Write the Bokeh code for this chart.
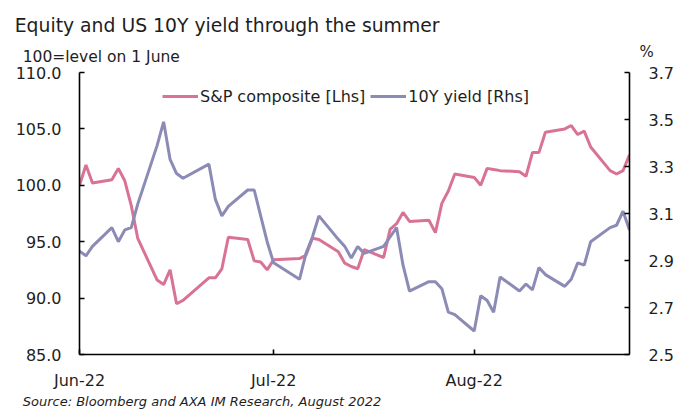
import pandas as pd
from bokeh.plotting import figure
from bokeh.models import (Range1d, LinearAxis, DatetimeAxis, FixedTicker, NumeralTickFormatter,
                          DatetimeTickFormatter, Label, Legend, LegendItem, ColumnDataSource)
from bokeh.embed import file_html
from bokeh.resources import INLINE

# ---- data ----
dates = [
    "2022-06-01", "2022-06-02", "2022-06-03", "2022-06-06", "2022-06-07", "2022-06-08",
    "2022-06-09", "2022-06-10", "2022-06-13", "2022-06-14", "2022-06-15", "2022-06-16",
    "2022-06-17", "2022-06-21", "2022-06-22", "2022-06-23", "2022-06-24", "2022-06-27",
    "2022-06-28", "2022-06-29", "2022-06-30", "2022-07-01", "2022-07-05", "2022-07-06",
    "2022-07-07", "2022-07-08", "2022-07-11", "2022-07-12", "2022-07-13", "2022-07-14",
    "2022-07-15", "2022-07-18", "2022-07-19", "2022-07-20", "2022-07-21", "2022-07-22",
    "2022-07-25", "2022-07-26", "2022-07-27", "2022-07-28", "2022-07-29", "2022-08-01",
    "2022-08-02", "2022-08-03", "2022-08-04", "2022-08-05", "2022-08-08", "2022-08-09",
    "2022-08-10", "2022-08-11", "2022-08-12", "2022-08-15", "2022-08-16", "2022-08-17",
    "2022-08-18", "2022-08-19", "2022-08-22", "2022-08-23", "2022-08-24", "2022-08-25",
]
sp_composite = [
    100.0, 101.8, 100.2, 100.5, 101.5, 100.4,
    98.2, 95.3, 91.6, 91.2, 92.5, 89.5,
    89.8, 91.8, 91.8, 92.6, 95.4, 95.2,
    93.3, 93.2, 92.5, 93.4, 93.5, 93.8,
    95.3, 95.2, 94.1, 93.1, 92.8, 92.6,
    94.3, 93.6, 96.1, 96.6, 97.6, 96.8,
    96.9, 95.8, 98.4, 99.5, 101.0, 100.7,
    100.0, 101.5, 101.4, 101.3, 101.2, 100.8,
    102.9, 102.9, 104.7, 105.0, 105.3, 104.5,
    104.8, 103.4, 101.3, 101.0, 101.3, 102.7,
]
yield_10y = [
    2.94, 2.92, 2.96, 3.04, 2.98, 3.03,
    3.04, 3.14, 3.39, 3.49, 3.33, 3.27,
    3.25, 3.31, 3.16, 3.09, 3.13, 3.20,
    3.20, 3.09, 2.98, 2.89, 2.82, 2.93,
    3.00, 3.09, 2.99, 2.96, 2.91, 2.96,
    2.93, 2.96, 3.00, 3.04, 2.88, 2.77,
    2.81, 2.81, 2.78, 2.68, 2.67, 2.60,
    2.75, 2.73, 2.68, 2.83, 2.77, 2.80,
    2.775, 2.87, 2.84, 2.79, 2.82, 2.89,
    2.88, 2.98, 3.04, 3.05, 3.11, 3.03,
]
x_ticks = ["2022-06-01", "2022-07-01", "2022-08-01"]
x_start, x_end = "2022-06-01", "2022-08-25"
left_ticks = [85, 90, 95, 100, 105, 110]
right_ticks = [2.5, 2.7, 2.9, 3.1, 3.3, 3.5, 3.7]

title_text = "Equity and US 10Y yield through the summer"
subtitle_text = "100=level on 1 June"
right_unit_text = "%"
source_text = "Source: Bloomberg and AXA IM Research, August 2022"
sp_label = "S&P composite [Lhs]"
yield_label = "10Y yield [Rhs]"

FONT = "DejaVu Sans"
TXT = "#1e1e1e"
PINK = "#D97396"
BLUE = "#8B8BB5"

# page geometry (pixels)
W, H = 676, 410
FL, FR, FT, FB = 79, 631, 72, 354   # frame left/right/top/bottom


def ms(d):
    return pd.Timestamp(d).value / 1e6


X0, X1 = ms(x_start), ms(x_end)
Y0, Y1 = min(left_ticks), max(left_ticks)


def px_x(px):
    """page pixel -> x data coordinate (for text placement only)"""
    return X0 + (px - FL) / (FR - FL) * (X1 - X0)


def px_y(py):
    """page pixel -> left-axis data coordinate (for text placement only)"""
    return Y1 - (py - FT) / (FB - FT) * (Y1 - Y0)


src = ColumnDataSource(dict(x=pd.to_datetime(dates), sp=sp_composite, yld=yield_10y))

p = figure(width=W, height=H, output_backend="svg", toolbar_location=None,
           x_axis_type=None, y_axis_location=None,
           x_range=Range1d(X0, X1), y_range=Range1d(Y0, Y1),
           min_border_left=FL, min_border_right=W - FR,
           min_border_top=FT, min_border_bottom=H - FB)
p.extra_y_ranges = {"yld": Range1d(min(right_ticks), max(right_ticks))}
p.outline_line_color = None
p.xgrid.visible = False
p.ygrid.visible = False


def style_axis(ax, standoff):
    ax.axis_line_color = "black"
    ax.axis_line_width = 1.6
    ax.major_tick_line_color = "black"
    ax.major_tick_line_width = 1.6
    ax.major_tick_in = 5
    ax.major_tick_out = 0
    ax.minor_tick_in = 0
    ax.minor_tick_out = 0
    ax.major_label_text_font = FONT
    ax.major_label_text_font_size = "16px"
    ax.major_label_text_color = TXT
    ax.major_label_standoff = standoff


xaxis = DatetimeAxis(ticker=FixedTicker(ticks=[ms(t) for t in x_ticks]))
fmt = "%b-%y"
xaxis.formatter = DatetimeTickFormatter(milliseconds=fmt, seconds=fmt, minsec=fmt, minutes=fmt,
                                        hourmin=fmt, hours=fmt, days=fmt, months=fmt, years=fmt)
style_axis(xaxis, 16)
p.add_layout(xaxis, "below")

laxis = LinearAxis(ticker=FixedTicker(ticks=left_ticks), formatter=NumeralTickFormatter(format="0.0"))
style_axis(laxis, 18)
p.add_layout(laxis, "left")

raxis = LinearAxis(y_range_name="yld", ticker=FixedTicker(ticks=right_ticks),
                   formatter=NumeralTickFormatter(format="0.0"))
style_axis(raxis, 19)
p.add_layout(raxis, "right")

r_sp = p.line("x", "sp", source=src, line_color=PINK, line_width=3)
r_y = p.line("x", "yld", source=src, y_range_name="yld", line_color=BLUE, line_width=3)

legend = Legend(items=[LegendItem(label=sp_label, renderers=[r_sp]),
                       LegendItem(label=yield_label, renderers=[r_y])],
                orientation="horizontal", location=(83, 248),
                glyph_width=36, glyph_height=20, label_standoff=2, spacing=5,
                padding=0, margin=0, background_fill_alpha=0, border_line_color=None,
                label_text_font=FONT, label_text_font_size="16px", label_text_color=TXT)
p.add_layout(legend)


def side_label(text, px, py_mid, size, side, style="normal"):
    lab = Label(x=px_x(px), y=px_y(py_mid), text=text, text_font=FONT, text_font_size=size,
                text_font_style=style, text_color=TXT, text_align="left",
                text_baseline="middle")
    p.add_layout(lab, side)


side_label(title_text, 14, 24.5, "18.8px", "above")
side_label(subtitle_text, 22, 56, "15.5px", "above")
side_label(right_unit_text, 641, 51, "15px", "above")
side_label(source_text, 22, 401, "13px", "below", style="italic")

open("out.html", "w").write(file_html(p, INLINE))
